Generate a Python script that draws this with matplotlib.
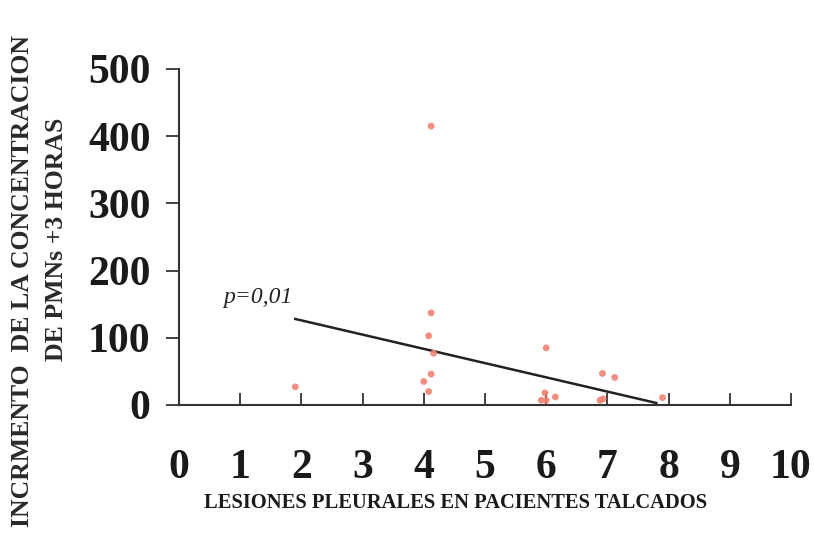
import matplotlib.pyplot as plt
import numpy as np

# lesiones pleurales vs incremento de PMNs a las 3 horas
lesiones = [1.9, 4.12, 4.12, 4.08, 4.16, 4.12, 4.0, 4.08,
            6.0, 5.98, 6.0, 5.92, 6.15, 6.92, 7.12, 6.93, 6.88, 7.9]
incremento = [27, 415, 137, 103, 77, 46, 35, 20,
              85, 18, 7, 7, 12, 47, 41, 9, 7, 11]

# recta de regresion
reg_x = [1.9, 7.8]
reg_y = [128, 3]

xticks = list(range(0, 11))
yticks = [0, 100, 200, 300, 400, 500]

plt.rcParams['font.family'] = ['Liberation Serif', 'DejaVu Serif']

fig = plt.figure(figsize=(8.14, 5.41), dpi=100)
ax = fig.add_axes([0.2199, 0.2514, 0.7518, 0.6211])

ax.scatter(lesiones, incremento, s=24, color='#f08272', alpha=0.9,
           edgecolors='none', zorder=3)
ax.plot(reg_x, reg_y, color='#222222', lw=1.8, zorder=2)
ax.text(0.72, 152, 'p=0,01', fontsize=17, style='italic', color='#222222')

ax.set_xlim(0, 10)
ax.set_ylim(0, 500)
ax.set_xticks(xticks)
ax.set_yticks(yticks)
ax.set_xticklabels([str(t) for t in xticks], fontsize=30, fontweight='bold',
                   color='#1a1a1a')
ax.set_yticklabels([str(t) for t in yticks], fontsize=30, fontweight='bold',
                   color='#1a1a1a')

for side in ['top', 'right']:
    ax.spines[side].set_visible(False)
for side in ['left', 'bottom']:
    ax.spines[side].set_linewidth(1.5)
    ax.spines[side].set_color('#333333')

ax.tick_params(axis='y', direction='out', length=9.5, width=1.3,
               pad=11, colors='#333333', labelcolor='#1a1a1a')
ax.tick_params(axis='x', direction='in', length=9, width=1.3,
               pad=32, colors='#333333', labelcolor='#1a1a1a')

fig.text(0.56, 0.07, 'LESIONES PLEURALES EN PACIENTES TALCADOS',
         fontsize=14.8, fontweight='bold', ha='center', va='center',
         color='#1a1a1a')
fig.text(0.028, 0.48, 'INCRMENTO  DE LA CONCENTRACION', rotation=90,
         fontsize=18.5, fontweight='bold', ha='center', va='center',
         color='#2a2a2a')
fig.text(0.07, 0.558, 'DE PMNs +3 HORAS', rotation=90,
         fontsize=18.5, fontweight='bold', ha='center', va='center',
         color='#2a2a2a')

plt.savefig('out.png', dpi=100)
plt.close()
